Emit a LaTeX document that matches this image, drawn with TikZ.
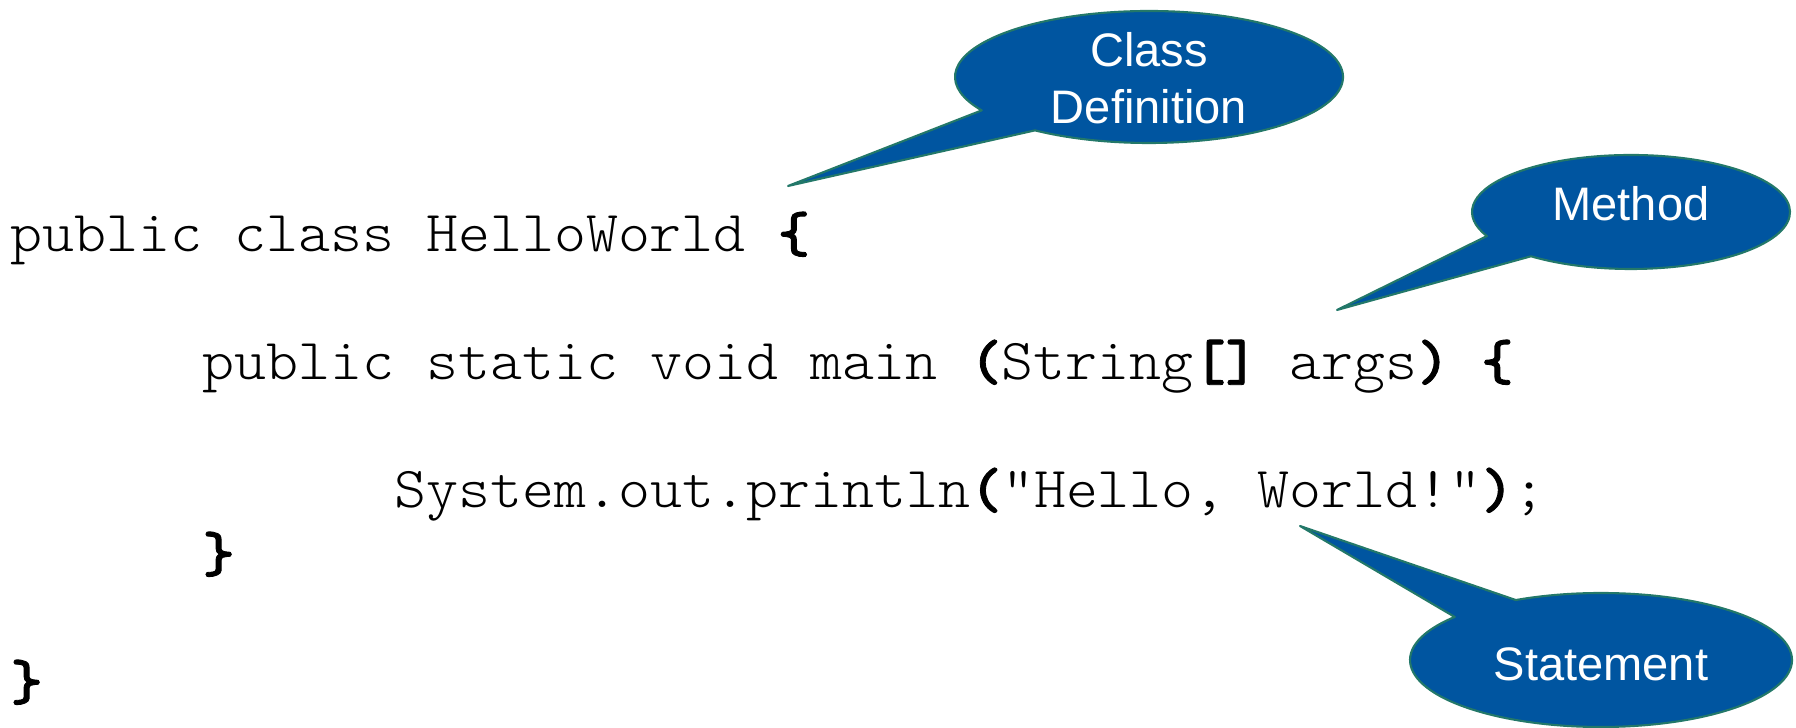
\documentclass[tikz,border=0pt]{standalone}
\usepackage{fontspec}
\setsansfont{Liberation Sans}
\setmonofont{lmmonolt10-regular.otf}[BoldFont=lmmonolt10-bold.otf, BoldFeatures={FakeBold=1.5}, FakeStretch=1.05]
\usepackage{tikz}
\definecolor{bubblefill}{RGB}{0,85,160}
\definecolor{bubbleedge}{RGB}{35,120,105}

\begin{document}
\begin{tikzpicture}
\tikzstyle{codeline} =[anchor=base west, inner sep=0pt, font=\ttfamily\fontsize{16.5}{20}\selectfont]
\tikzstyle{bubble} =[fill=bubblefill, draw=bubbleedge, line width=0.6pt, line join=round]
\tikzstyle{bubbletext} =[text=white, align=center, inner sep=0pt, font=\sffamily\fontsize{13.38}{16.2}\selectfont]

\useasboundingbox (0,0) rectangle (17.96,7.28);

% the program, one node per line
\node[codeline](l1) at (0.10,4.76){public class HelloWorld \textbf{\{}};
\node[codeline](l2) at (2.02,3.48){public static void main \textbf{(}String\textbf{[]} args\textbf{)} \textbf{\{}};
\node[codeline](l3) at (3.94,2.20){System.out.println\textbf{(}"Hello, World!"\textbf{)};};
\node[codeline](l4) at (2.02,1.56){\textbf{\}}};
\node[codeline](l5) at (0.10,0.28){\textbf{\}}};

% callouts: ellipse with a tail
\coordinate (cd) at (11.49,6.51);
\coordinate (cdtip) at (7.88,5.42);
\draw[bubble] (cdtip) -- ([shift={(234:1.94 and 0.66)}]cd) arc[start angle=234, end angle=570.4, x radius=1.94, y radius=0.66] -- cycle;
\node[bubbletext](cdtext) at (11.49,6.50){Class\\Definition};

\coordinate (me) at (16.31,5.16);
\coordinate (metip) at (13.37,4.18);
\draw[bubble] (metip) -- ([shift={(231:1.59 and 0.57)}]me) arc[start angle=231, end angle=565, x radius=1.59, y radius=0.57] -- cycle;
\node[bubbletext](metext) at (16.31,5.24){Method};

\coordinate (st) at (16.01,0.68);
\coordinate (sttip) at (13.00,2.02);
\draw[bubble] (sttip) -- ([shift={(140:1.91 and 0.67)}]st) arc[start angle=140, end angle=476.5, x radius=1.91, y radius=0.67] -- cycle;
\node[bubbletext](sttext) at (16.01,0.64){Statement};

\end{tikzpicture}
\end{document}
